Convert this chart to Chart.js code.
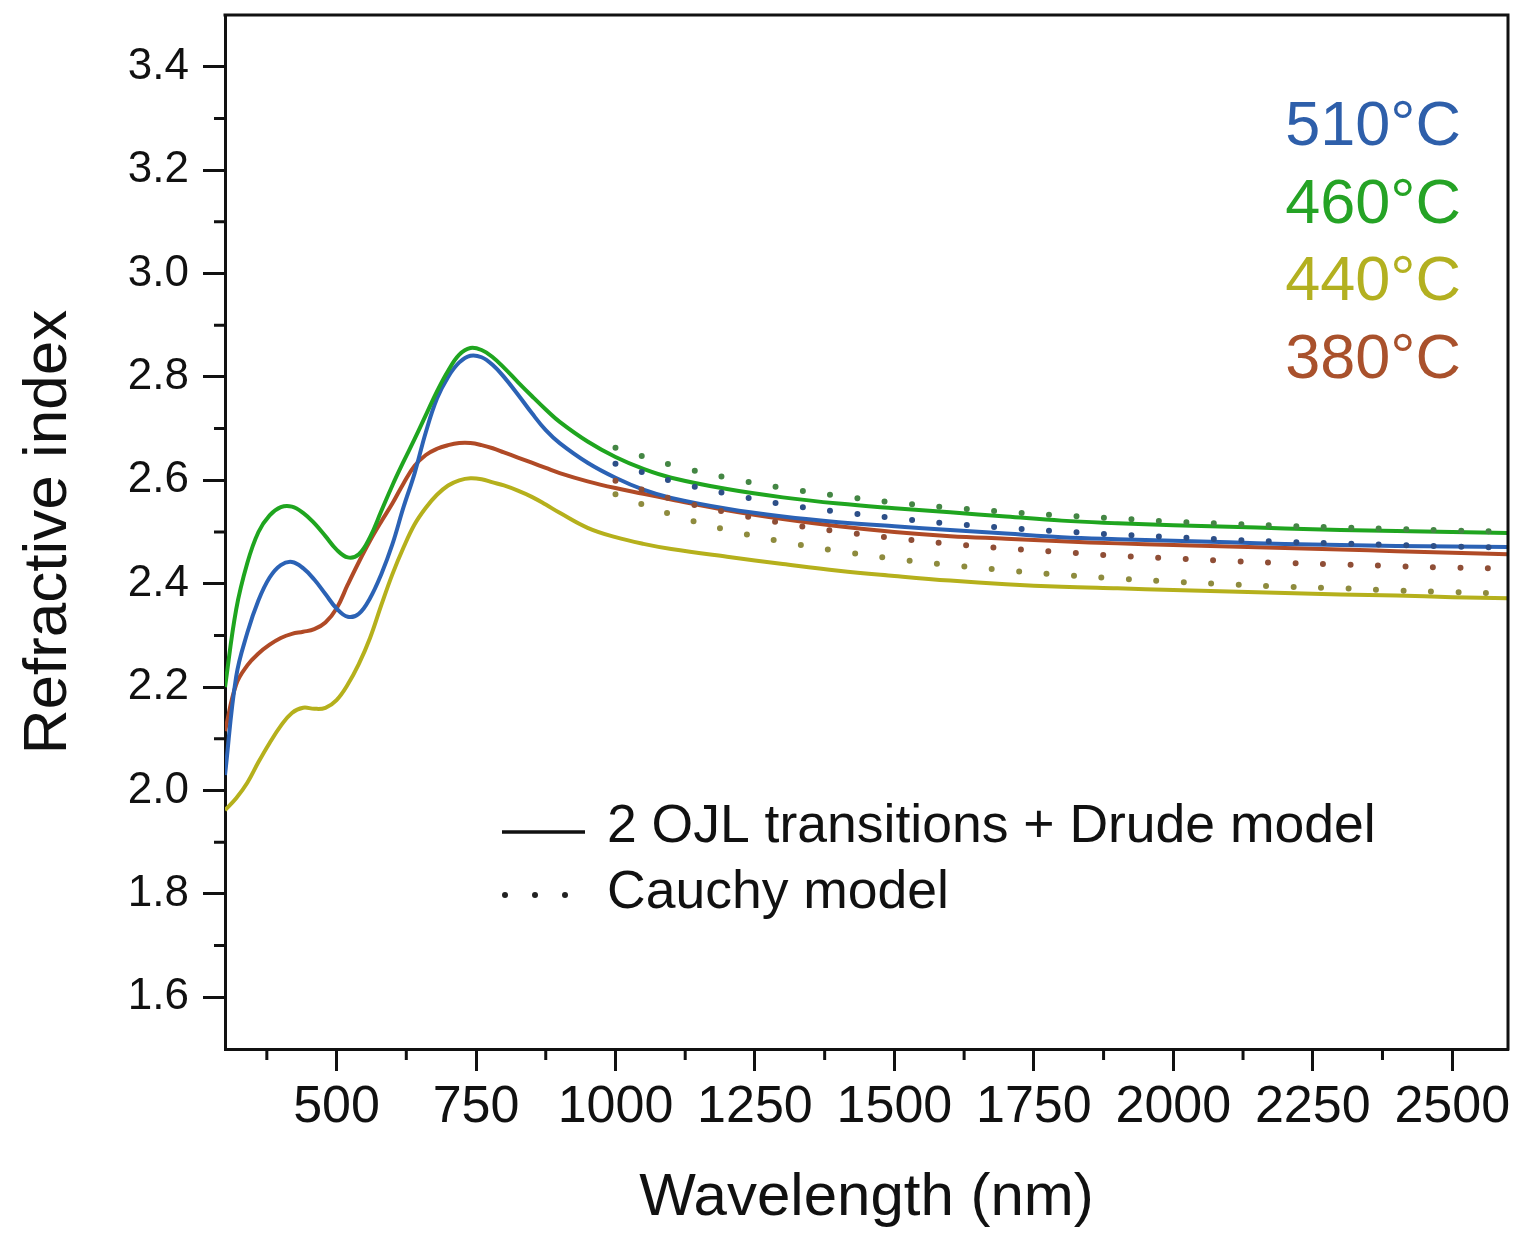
<!DOCTYPE html>
<html>
<head>
<meta charset="utf-8">
<script src="https://cdn.jsdelivr.net/npm/chart.js@4.4.1/dist/chart.umd.min.js"></script>
<style>
  html, body { margin: 0; padding: 0; background: #ffffff; }
  #wrap { width: 1519px; height: 1238px; position: relative; }
</style>
</head>
<body>
<div id="wrap"><canvas id="c"></canvas></div>
<script>
// ---- Data ----
const wavelengthSolid = [300, 320, 340, 360, 380, 400, 420, 440, 460, 480, 500, 520, 540, 560, 580, 600, 620, 640, 660, 680, 700, 720, 740, 760, 780, 800, 825, 850, 875, 900, 950, 1000, 1050, 1100, 1200, 1300, 1400, 1500, 1600, 1700, 1800, 1900, 2000, 2100, 2200, 2300, 2400, 2500, 2600];

const ojl510 = [2.030, 2.220, 2.305, 2.368, 2.412, 2.436, 2.442, 2.430, 2.408, 2.380, 2.352, 2.336, 2.342, 2.372, 2.418, 2.476, 2.548, 2.614, 2.693, 2.758, 2.800, 2.828, 2.841, 2.838, 2.823, 2.800, 2.766, 2.730, 2.697, 2.672, 2.634, 2.605, 2.582, 2.566, 2.545, 2.530, 2.519, 2.511, 2.504, 2.497, 2.490, 2.486, 2.483, 2.480, 2.477, 2.475, 2.473, 2.472, 2.471];

const ojl460 = [2.200, 2.350, 2.440, 2.500, 2.532, 2.548, 2.549, 2.537, 2.517, 2.492, 2.466, 2.451, 2.457, 2.490, 2.540, 2.590, 2.636, 2.680, 2.726, 2.772, 2.812, 2.843, 2.856, 2.852, 2.838, 2.818, 2.790, 2.763, 2.737, 2.713, 2.675, 2.645, 2.622, 2.605, 2.583, 2.567, 2.555, 2.546, 2.538, 2.530, 2.522, 2.517, 2.513, 2.510, 2.507, 2.504, 2.502, 2.500, 2.498];

const ojl440 = [1.962, 1.985, 2.015, 2.055, 2.092, 2.125, 2.150, 2.160, 2.158, 2.160, 2.175, 2.205, 2.245, 2.295, 2.358, 2.418, 2.470, 2.515, 2.547, 2.572, 2.590, 2.600, 2.604, 2.602, 2.596, 2.590, 2.580, 2.568, 2.553, 2.537, 2.508, 2.490, 2.477, 2.467, 2.452, 2.438, 2.425, 2.415, 2.406, 2.399, 2.394, 2.391, 2.388, 2.385, 2.382, 2.379, 2.377, 2.374, 2.372];

const ojl380 = [2.115, 2.205, 2.242, 2.265, 2.282, 2.295, 2.303, 2.307, 2.312, 2.325, 2.352, 2.398, 2.442, 2.483, 2.520, 2.555, 2.594, 2.628, 2.649, 2.661, 2.668, 2.672, 2.672, 2.668, 2.662, 2.654, 2.644, 2.634, 2.624, 2.614, 2.598, 2.585, 2.574, 2.563, 2.542, 2.525, 2.511, 2.500, 2.492, 2.487, 2.482, 2.478, 2.475, 2.472, 2.469, 2.466, 2.463, 2.460, 2.457];

const wavelengthCauchy = [1000, 1100, 1200, 1300, 1400, 1500, 1600, 1700, 1800, 1900, 2000, 2100, 2200, 2300, 2400, 2500, 2600];
const cauchy510 = [2.632, 2.599, 2.574, 2.554, 2.539, 2.527, 2.516, 2.508, 2.501, 2.495, 2.490, 2.485, 2.481, 2.478, 2.475, 2.472, 2.470];
const cauchy460 = [2.663, 2.630, 2.605, 2.585, 2.570, 2.557, 2.547, 2.539, 2.532, 2.526, 2.520, 2.516, 2.512, 2.509, 2.506, 2.503, 2.501];
const cauchy440 = [2.573, 2.534, 2.504, 2.481, 2.463, 2.448, 2.436, 2.426, 2.417, 2.410, 2.404, 2.399, 2.394, 2.391, 2.387, 2.384, 2.381];
const cauchy380 = [2.599, 2.564, 2.538, 2.517, 2.501, 2.488, 2.477, 2.468, 2.461, 2.454, 2.449, 2.444, 2.440, 2.437, 2.434, 2.431, 2.429];

const seriesNames = ['510°C', '460°C', '440°C', '380°C'];
const xMajorTicks = [500, 750, 1000, 1250, 1500, 1750, 2000, 2250, 2500];
const xMinorTicks = [375, 625, 875, 1125, 1375, 1625, 1875, 2125, 2375];
const yMajorTicks = [1.6, 1.8, 2.0, 2.2, 2.4, 2.6, 2.8, 3.0, 3.2, 3.4];
const yMinorTicks = [1.7, 1.9, 2.1, 2.3, 2.5, 2.7, 2.9, 3.1, 3.3];
const legendLabels = ['2 OJL transitions + Drude model', 'Cauchy model'];

// ---- Styling ----
const FONT = '"Liberation Sans", Arial, Helvetica, sans-serif';
const colors = { c510: '#2b62b5', c460: '#1fa51f', c440: '#b5b01c', c380: '#b04a26' };
const dotColors = { c510: '#2d4f88', c460: '#448644', c440: '#8e8b3e', c380: '#8f4e36' };
const labelColors = ['#2e5faa', '#25a325', '#b3b020', '#a9512c'];
const AXIS = '#111111';

function pts(xs, ys) { return xs.map((x, i) => ({ x: x, y: ys[i] })); }

function solid(data, color) {
  return { data: data, borderColor: color, borderWidth: 4, pointRadius: 0,
           tension: 0.4, fill: false };
}
function dotted(data, color) {
  return { data: data, borderColor: color, borderWidth: 6, pointRadius: 0,
           borderDash: [0, 27.5], borderCapStyle: 'round', tension: 0.4, fill: false };
}

const decorPlugin = {
  id: 'decor',
  afterDraw(chart) {
    const ctx = chart.ctx;
    const xs = chart.scales.x, ys = chart.scales.y;
    const a = chart.chartArea;
    ctx.save();
    // frame top & right
    ctx.strokeStyle = AXIS; ctx.lineWidth = 3; ctx.lineCap = 'butt';
    ctx.beginPath();
    ctx.moveTo(a.left - 1.5, a.top); ctx.lineTo(a.right, a.top); ctx.lineTo(a.right, a.bottom + 1.5);
    ctx.stroke();
    // minor ticks
    ctx.lineWidth = 3;
    ctx.beginPath();
    xMinorTicks.forEach(v => { const p = xs.getPixelForValue(v); ctx.moveTo(p, a.bottom); ctx.lineTo(p, a.bottom + 11); });
    yMinorTicks.forEach(v => { const p = ys.getPixelForValue(v); ctx.moveTo(a.left, p); ctx.lineTo(a.left - 11, p); });
    ctx.stroke();
    // temperature labels
    ctx.font = '63px ' + FONT;
    ctx.textAlign = 'right'; ctx.textBaseline = 'middle';
    const ty = [128, 206, 283, 361];
    seriesNames.forEach((t, i) => { ctx.fillStyle = labelColors[i]; ctx.fillText(t, 1461, ty[i]); });
    // legend
    ctx.strokeStyle = '#111'; ctx.lineWidth = 3.5;
    ctx.beginPath(); ctx.moveTo(502, 832); ctx.lineTo(585, 832); ctx.stroke();
    ctx.fillStyle = '#222';
    [505, 535, 565].forEach(x => { ctx.beginPath(); ctx.arc(x, 895, 3, 0, Math.PI * 2); ctx.fill(); });
    ctx.fillStyle = '#111';
    ctx.font = '53.5px ' + FONT;
    ctx.textAlign = 'left'; ctx.textBaseline = 'middle';
    ctx.fillText(legendLabels[0], 607, 827);
    ctx.fillText(legendLabels[1], 607, 893);
    ctx.restore();
  }
};

new Chart(document.getElementById('c'), {
  type: 'line',
  data: {
    datasets: [
      dotted(pts(wavelengthCauchy, cauchy460), dotColors.c460),
      dotted(pts(wavelengthCauchy, cauchy510), dotColors.c510),
      dotted(pts(wavelengthCauchy, cauchy380), dotColors.c380),
      dotted(pts(wavelengthCauchy, cauchy440), dotColors.c440),
      solid(pts(wavelengthSolid, ojl460), colors.c460),
      solid(pts(wavelengthSolid, ojl510), colors.c510),
      solid(pts(wavelengthSolid, ojl380), colors.c380),
      solid(pts(wavelengthSolid, ojl440), colors.c440)
    ]
  },
  options: {
    responsive: true,
    maintainAspectRatio: false,
    animation: false,
    layout: { padding: { left: 0, top: 15, right: 11, bottom: 0 } },
    plugins: { legend: { display: false }, tooltip: { enabled: false } },
    scales: {
      x: {
        type: 'linear', min: 300, max: 2600,
        afterFit(s) { s.height = 189; s.paddingLeft = 0; s.paddingRight = 0; },
        afterBuildTicks(s) { s.ticks = xMajorTicks.map(v => ({ value: v })); },
        border: { display: true, color: AXIS, width: 3 },
        grid: { display: true, drawOnChartArea: false, drawTicks: true, tickLength: 22, tickWidth: 3, tickColor: AXIS },
        ticks: { color: '#111', font: { family: FONT, size: 52 }, padding: 5, maxRotation: 0, autoSkip: false,
                 callback: v => String(v) },
        title: { display: true, text: 'Wavelength (nm)', color: '#111', font: { family: FONT, size: 60 },
                 padding: { top: 0, bottom: 4 } }
      },
      y: {
        type: 'linear', min: 1.5, max: 3.5,
        afterFit(s) { s.width = 225; s.paddingTop = 0; s.paddingBottom = 0; },
        afterBuildTicks(s) { s.ticks = yMajorTicks.map(v => ({ value: v })); },
        border: { display: true, color: AXIS, width: 3 },
        grid: { display: true, drawOnChartArea: false, drawTicks: true, tickLength: 22, tickWidth: 3, tickColor: AXIS },
        ticks: { color: '#111', font: { family: FONT, size: 44 }, padding: 14, autoSkip: false,
                 callback: v => Number(v).toFixed(1) },
        title: { display: true, text: 'Refractive index', color: '#111', font: { family: FONT, size: 62 },
                 padding: { top: 12, bottom: 0 } }
      }
    }
  },
  plugins: [decorPlugin]
});
</script>
</body>
</html>
